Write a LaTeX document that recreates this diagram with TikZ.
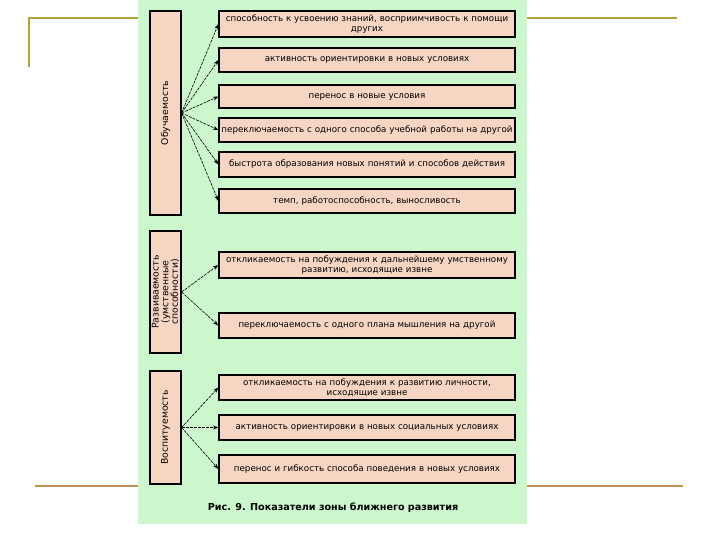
\documentclass[tikz,border=0pt]{standalone}
\usepackage{fontspec}
\setmainfont{DejaVu Sans}
\usetikzlibrary{arrows.meta}
\definecolor{panelgreen}{RGB}{204,247,204}
\definecolor{peach}{RGB}{246,214,194}
\definecolor{goldtop}{RGB}{184,160,52}
\definecolor{goldbot}{RGB}{190,146,80}
\tikzset{
  rbox/.style={draw=black, line width=1.2pt, fill=peach, minimum width=296pt, text width=294pt, align=center, inner xsep=1pt, inner ysep=0pt, font=\fontsize{8.7}{9.6}\selectfont},
  lbox/.style={draw=black, line width=1.2pt, fill=peach, minimum width=31pt, inner sep=0pt},
  ltext/.style={rotate=90, align=center, font=\fontsize{9.3}{9.6}\selectfont, inner sep=0pt},
  conn/.style={line width=0.6pt, dash pattern=on 3pt off 1pt, -{Stealth[length=5.5pt,width=4pt]}},
}
\begin{document}
\begin{tikzpicture}[x=1pt,y=-1pt]
\useasboundingbox (0,0) rectangle (720,540);
\fill[white] (0,0) rectangle (720,540);
% slide decoration
\draw[goldtop, line width=2.5pt] (29,67) -- (29,18) -- (677,18);
\draw[goldbot, line width=2.5pt] (35,486) -- (683,486);
% panel
\fill[panelgreen] (138,0) rectangle (527,524);
% left boxes
\node[lbox, minimum height=204pt] (L1) at (165.5,113) {};
\node[ltext] at (L1.center) {Обучаемость};
\node[lbox, minimum height=122pt] (L2) at (165.5,292) {};
\node[ltext] at (L2.center) {Развиваемость\\(умственные\\способности)};
\node[lbox, minimum height=113pt] (L3) at (165.5,427.5) {};
\node[ltext] at (L3.center) {Воспитуемость};
% right boxes
\node[rbox, minimum height=26pt] (a1) at (367,24) {способность к усвоению знаний, восприимчивость к помощи\\других};
\node[rbox, minimum height=24pt] (a2) at (367,60) {активность ориентировки в новых условиях};
\node[rbox, minimum height=23pt] (a3) at (367,96.5) {перенос в новые условия};
\node[rbox, minimum height=24pt] (a4) at (367,130) {переключаемость с одного способа учебной работы на другой};
\node[rbox, minimum height=25pt] (a5) at (367,164.5) {быстрота образования новых понятий и способов действия};
\node[rbox, minimum height=24pt] (a6) at (367,201) {темп, работоспособность, выносливость};
\node[rbox, minimum height=26pt] (b1) at (367,265) {откликаемость на побуждения к дальнейшему умственному\\развитию, исходящие извне};
\node[rbox, minimum height=25pt] (b2) at (367,325.5) {переключаемость с одного плана мышления на другой};
\node[rbox, minimum height=25pt] (c1) at (367,387.5) {откликаемость на побуждения к развитию личности,\\исходящие извне};
\node[rbox, minimum height=25pt] (c2) at (367,427.5) {активность ориентировки в новых социальных условиях};
\node[rbox, minimum height=28pt] (c3) at (367,469) {перенос и гибкость способа поведения в новых условиях};
% connectors
\foreach \t in {a1,a2,a3,a4,a5,a6} \draw[conn] (L1.east) -- (\t.west);
\foreach \t in {b1,b2} \draw[conn] (L2.east) -- (\t.west);
\foreach \t in {c1,c2,c3} \draw[conn] (L3.east) -- (\t.west);
% caption
\node[font=\bfseries\fontsize{9.6}{11}\selectfont, inner sep=0pt] (cap) at (333,508) {Рис. 9. Показатели зоны ближнего развития};
\end{tikzpicture}
\end{document}
